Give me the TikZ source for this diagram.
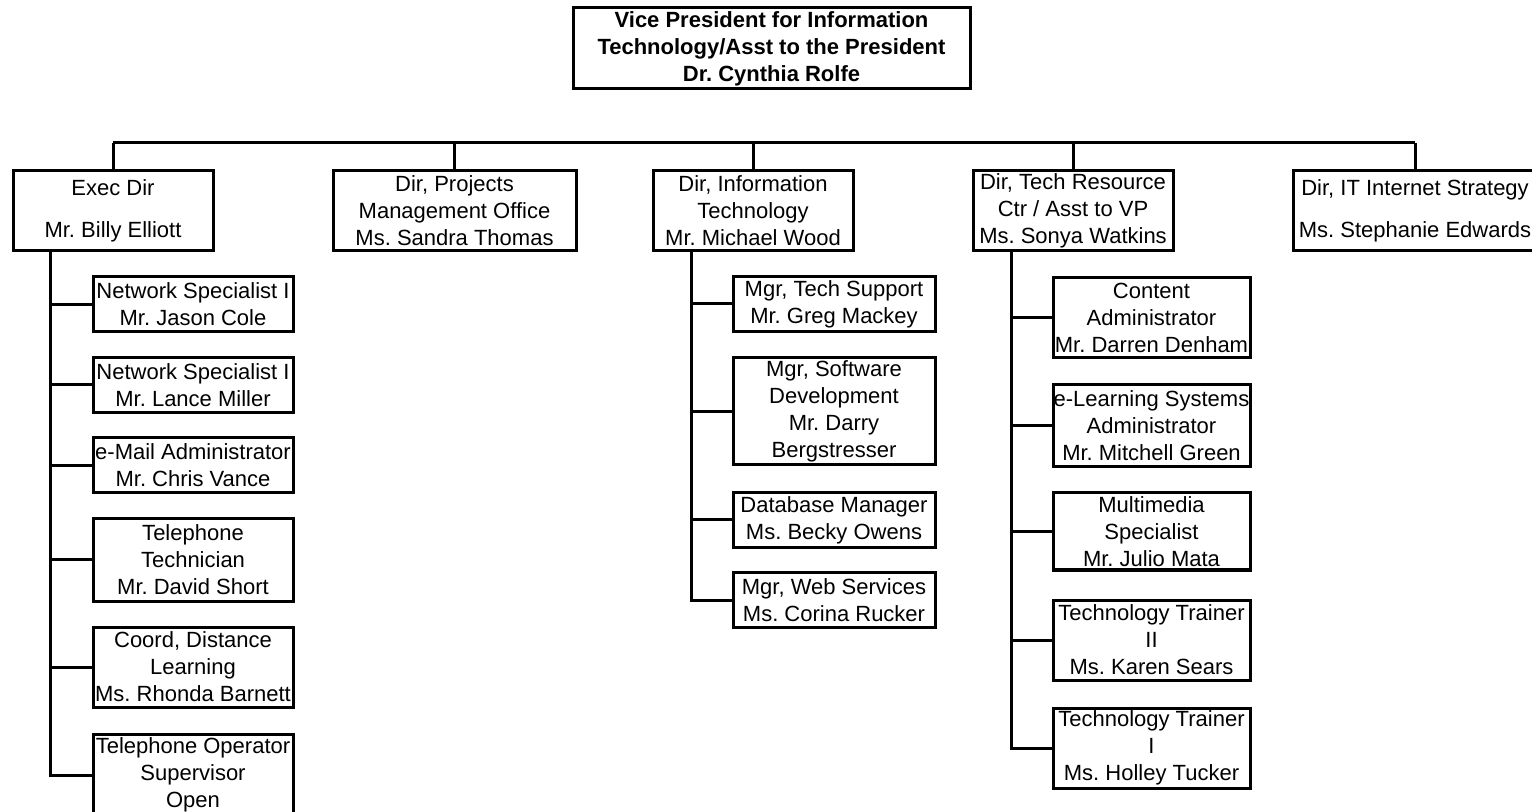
\documentclass[tikz,border=0pt]{standalone}
\usepackage{fontspec}
\setmainfont{Liberation Sans}
\frenchspacing
\begin{document}
		\begin{tikzpicture}[x=0.5pt,y=-0.5pt,line width=1.5pt,
			box/.style={draw,align=center,inner sep=0pt,minimum width=100pt,
				font=\fontsize{11}{13.5}\selectfont},
			two/.style={box,minimum height=27.5pt},
			three/.style={box,minimum height=40pt}]
			\useasboundingbox (0,0) rectangle (1532,812);
			\clip (0,0) rectangle (1532,812);
			\node[box,minimum width=198.5pt,minimum height=40.5pt,
				font=\fontsize{11}{13.5}\selectfont\bfseries] (vp) at (771.5,48.5)
				{Vice President for Information\\Technology/Asst to the President\\Dr. Cynthia Rolfe};
			\node[three] (exec) at (113,211) {Exec Dir\\[7.5pt]Mr. Billy Elliott};
			\node[three,minimum width=121.5pt] (pmo) at (454.5,211) {Dir, Projects\\Management Office\\Ms. Sandra Thomas};
			\node[three] (itd) at (753,211) {Dir, Information\\Technology\\Mr. Michael Wood};
			\node[three] (trc) at (1073,211) {Dir, Tech Resource\\Ctr / Asst to VP\\Ms. Sonya Watkins};
			\node[three,minimum width=122pt] (iis) at (1415,211) {Dir, IT Internet Strategy\\[7.5pt]Ms. Stephanie Edwards};
			\coordinate (bus) at (0,143);
			\draw (exec.north |- bus) -- (iis.north |- bus);
			\foreach \n in {exec,pmo,itd,trc,iis}
				\draw (\n.north |- bus) -- (\n.north);
			\node[two] (ns1) at (193,304.5) {Network Specialist I\\Mr. Jason Cole};
			\node[two] (ns2) at (193,385) {Network Specialist I\\Mr. Lance Miller};
			\node[two] (mail) at (193,465.5) {e-Mail Administrator\\Mr. Chris Vance};
			\node[three,minimum height=41pt] (tel) at (193,560) {Telephone\\Technician\\Mr. David Short};
			\node[three] (dl) at (193,667) {Coord, Distance\\Learning\\Ms. Rhonda Barnett};
			\node[three,minimum height=41pt] (tos) at (193,775) {Telephone Operator\\Supervisor\\Open};
			\draw ([xshift=19.5pt]exec.south west) coordinate (ex) -- (ex |- tos.west);
			\foreach \n in {ns1,ns2,mail,tel,dl}
				\draw (ex |- \n.west) -- (\n.west);
			\draw[line cap=rect] (ex |- tos.west) -- (tos.west);
			\node[two,minimum width=101pt] (mts) at (834,304) {Mgr, Tech Support\\Mr. Greg Mackey};
			\node[box,minimum width=101pt,minimum height=53.5pt] (msd) at (834,411.5) {Mgr, Software\\Development\\Mr. Darry\\Bergstresser};
			\node[two,minimum width=101pt] (dbm) at (834,520) {Database Manager\\Ms. Becky Owens};
			\node[two,minimum width=101pt] (mws) at (834,600) {Mgr, Web Services\\Ms. Corina Rucker};
			\draw ([xshift=20pt]itd.south west) coordinate (it) -- (it |- mws.west);
			\foreach \n in {mts,msd,dbm}
				\draw (it |- \n.west) -- (\n.west);
			\draw[line cap=rect] (it |- mws.west) -- (mws.west);
			\node[three,minimum width=98.5pt] (cad) at (1151.5,317.5) {Content\\Administrator\\Mr. Darren Denham};
			\node[three,minimum width=98.5pt,minimum height=41pt] (els) at (1151.5,426) {e-Learning Systems\\Administrator\\Mr. Mitchell Green};
			\node[three,minimum width=98.5pt,minimum height=38.5pt] (mms) at (1151.5,531.5) {Multimedia\\Specialist\\Mr. Julio Mata};
			\node[three,minimum width=98.5pt] (tt2) at (1151.5,640) {Technology Trainer\\II\\Ms. Karen Sears};
			\node[three,minimum width=98.5pt] (tt1) at (1151.5,748) {Technology Trainer\\I\\Ms. Holley Tucker};
			\draw ([xshift=20pt]trc.south west) coordinate (tr) -- (tr |- tt1.west);
			\foreach \n in {cad,els,mms,tt2}
				\draw (tr |- \n.west) -- (\n.west);
			\draw[line cap=rect] (tr |- tt1.west) -- (tt1.west);
		\end{tikzpicture}
\end{document}
